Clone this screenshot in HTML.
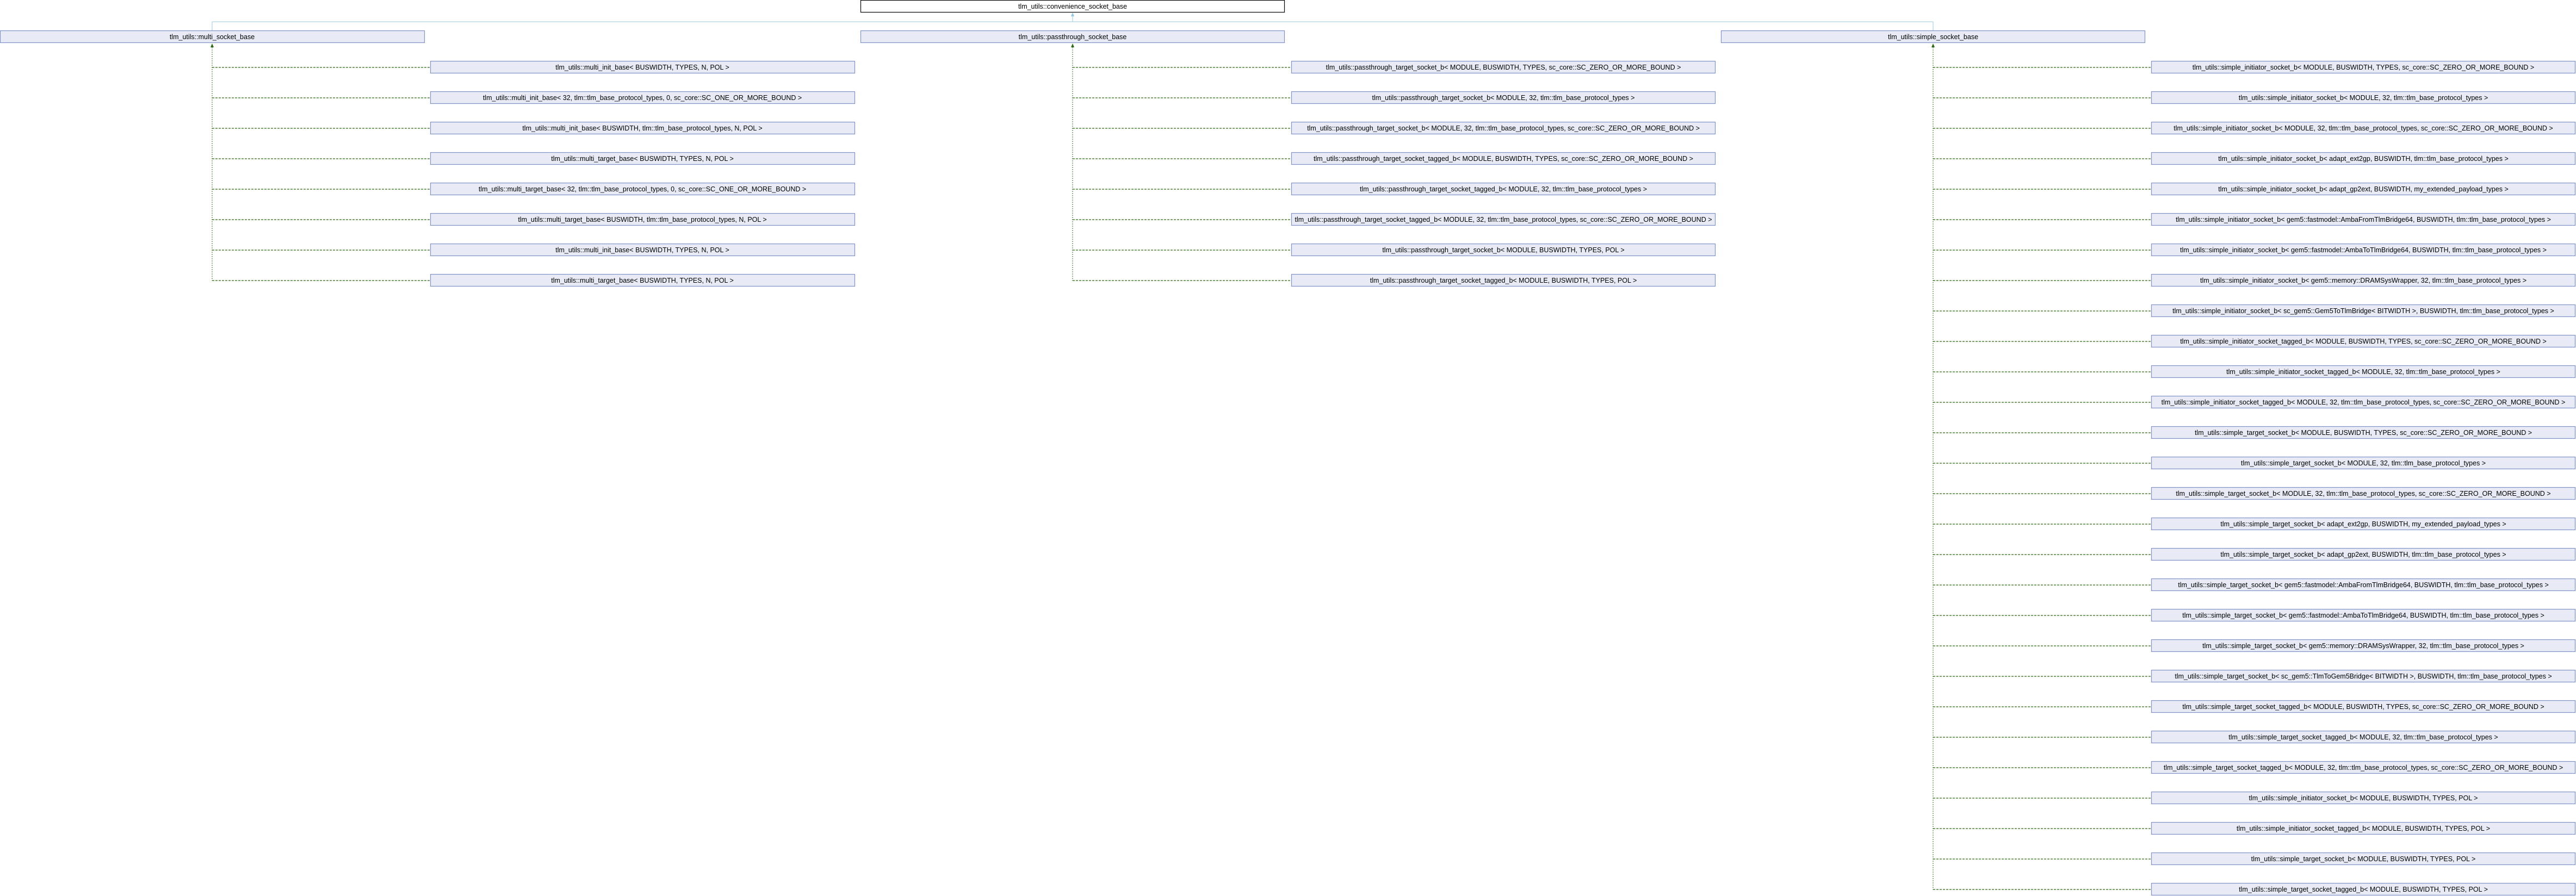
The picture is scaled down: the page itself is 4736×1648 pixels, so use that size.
<!DOCTYPE html>
<html><head><meta charset="utf-8"><style>
html,body{margin:0;padding:0;background:#fff;}
svg{display:block;}
text{font-family:"Liberation Sans",sans-serif;font-size:12.5px;fill:#000;text-anchor:middle;}
.b{fill:#e8ebf5;stroke:#7f93c8;stroke-width:1.2;}
.g{stroke:#2a6a12;stroke-width:1.2;stroke-dasharray:4,2;fill:none;}
.v{stroke:#2a6a12;stroke-width:1;stroke-dasharray:2,2;fill:none;}
.l{stroke:#95c8e6;stroke-width:1;fill:none;}
</style></head><body>
<svg width="4736" height="1648" viewBox="0 0 4736 1648" xmlns="http://www.w3.org/2000/svg">
<path class="l" d="M390,56 V40 H3554 V56 M1972,40 V25"/>
<polygon points="1972,23 1969,30 1975,30" fill="#95c8e6"/>
<rect x="1582.5" y="0.5" width="779" height="22" fill="#fff" stroke="#000" stroke-width="1.2"/>
<text x="1972" y="16">tlm_utils::convenience_socket_base</text>
<rect class="b" x="0.5" y="56.5" width="780" height="22"/><text x="390" y="72">tlm_utils::multi_socket_base</text>
<rect class="b" x="1582.5" y="56.5" width="779" height="22"/><text x="1972" y="72">tlm_utils::passthrough_socket_base</text>
<rect class="b" x="3164.5" y="56.5" width="779" height="22"/><text x="3554" y="72">tlm_utils::simple_socket_base</text>
<polygon points="390,80 387,87 393,87" fill="#2a6a12"/>
<polygon points="1972,80 1969,87 1975,87" fill="#2a6a12"/>
<polygon points="3554,80 3551,87 3557,87" fill="#2a6a12"/>
<path class="v" d="M390,87 V516"/>
<path class="v" d="M1972,87 V516"/>
<path class="v" d="M3554,87 V1636"/>
<g>
<path class="g" d="M390,124H791 M390,180H791 M390,236H791 M390,292H791 M390,348H791 M390,404H791 M390,460H791 M390,516H791"/>
<rect class="b" x="791.5" y="112.5" width="780" height="22"/><text x="1181" y="128">tlm_utils::multi_init_base&lt; BUSWIDTH, TYPES, N, POL &gt;</text>
<rect class="b" x="791.5" y="168.5" width="780" height="22"/><text x="1181" y="184">tlm_utils::multi_init_base&lt; 32, tlm::tlm_base_protocol_types, 0, sc_core::SC_ONE_OR_MORE_BOUND &gt;</text>
<rect class="b" x="791.5" y="224.5" width="780" height="22"/><text x="1181" y="240">tlm_utils::multi_init_base&lt; BUSWIDTH, tlm::tlm_base_protocol_types, N, POL &gt;</text>
<rect class="b" x="791.5" y="280.5" width="780" height="22"/><text x="1181" y="296">tlm_utils::multi_target_base&lt; BUSWIDTH, TYPES, N, POL &gt;</text>
<rect class="b" x="791.5" y="336.5" width="780" height="22"/><text x="1181" y="352">tlm_utils::multi_target_base&lt; 32, tlm::tlm_base_protocol_types, 0, sc_core::SC_ONE_OR_MORE_BOUND &gt;</text>
<rect class="b" x="791.5" y="392.5" width="780" height="22"/><text x="1181" y="408">tlm_utils::multi_target_base&lt; BUSWIDTH, tlm::tlm_base_protocol_types, N, POL &gt;</text>
<rect class="b" x="791.5" y="448.5" width="780" height="22"/><text x="1181" y="464">tlm_utils::multi_init_base&lt; BUSWIDTH, TYPES, N, POL &gt;</text>
<rect class="b" x="791.5" y="504.5" width="780" height="22"/><text x="1181" y="520">tlm_utils::multi_target_base&lt; BUSWIDTH, TYPES, N, POL &gt;</text>
</g>
<g>
<path class="g" d="M1972,124H2374 M1972,180H2374 M1972,236H2374 M1972,292H2374 M1972,348H2374 M1972,404H2374 M1972,460H2374 M1972,516H2374"/>
<rect class="b" x="2374.5" y="112.5" width="779" height="22"/><text x="2764" y="128">tlm_utils::passthrough_target_socket_b&lt; MODULE, BUSWIDTH, TYPES, sc_core::SC_ZERO_OR_MORE_BOUND &gt;</text>
<rect class="b" x="2374.5" y="168.5" width="779" height="22"/><text x="2764" y="184">tlm_utils::passthrough_target_socket_b&lt; MODULE, 32, tlm::tlm_base_protocol_types &gt;</text>
<rect class="b" x="2374.5" y="224.5" width="779" height="22"/><text x="2764" y="240">tlm_utils::passthrough_target_socket_b&lt; MODULE, 32, tlm::tlm_base_protocol_types, sc_core::SC_ZERO_OR_MORE_BOUND &gt;</text>
<rect class="b" x="2374.5" y="280.5" width="779" height="22"/><text x="2764" y="296">tlm_utils::passthrough_target_socket_tagged_b&lt; MODULE, BUSWIDTH, TYPES, sc_core::SC_ZERO_OR_MORE_BOUND &gt;</text>
<rect class="b" x="2374.5" y="336.5" width="779" height="22"/><text x="2764" y="352">tlm_utils::passthrough_target_socket_tagged_b&lt; MODULE, 32, tlm::tlm_base_protocol_types &gt;</text>
<rect class="b" x="2374.5" y="392.5" width="779" height="22"/><text x="2764" y="408">tlm_utils::passthrough_target_socket_tagged_b&lt; MODULE, 32, tlm::tlm_base_protocol_types, sc_core::SC_ZERO_OR_MORE_BOUND &gt;</text>
<rect class="b" x="2374.5" y="448.5" width="779" height="22"/><text x="2764" y="464">tlm_utils::passthrough_target_socket_b&lt; MODULE, BUSWIDTH, TYPES, POL &gt;</text>
<rect class="b" x="2374.5" y="504.5" width="779" height="22"/><text x="2764" y="520">tlm_utils::passthrough_target_socket_tagged_b&lt; MODULE, BUSWIDTH, TYPES, POL &gt;</text>
</g>
<g>
<path class="g" d="M3554,124H3955 M3554,180H3955 M3554,236H3955 M3554,292H3955 M3554,348H3955 M3554,404H3955 M3554,460H3955 M3554,516H3955 M3554,572H3955 M3554,628H3955 M3554,684H3955 M3554,740H3955 M3554,796H3955 M3554,852H3955 M3554,908H3955 M3554,964H3955 M3554,1020H3955 M3554,1076H3955 M3554,1132H3955 M3554,1188H3955 M3554,1244H3955 M3554,1300H3955 M3554,1356H3955 M3554,1412H3955 M3554,1468H3955 M3554,1524H3955 M3554,1580H3955 M3554,1636H3955"/>
<rect class="b" x="3955.5" y="112.5" width="779" height="22"/><text x="4345" y="128">tlm_utils::simple_initiator_socket_b&lt; MODULE, BUSWIDTH, TYPES, sc_core::SC_ZERO_OR_MORE_BOUND &gt;</text>
<rect class="b" x="3955.5" y="168.5" width="779" height="22"/><text x="4345" y="184">tlm_utils::simple_initiator_socket_b&lt; MODULE, 32, tlm::tlm_base_protocol_types &gt;</text>
<rect class="b" x="3955.5" y="224.5" width="779" height="22"/><text x="4345" y="240">tlm_utils::simple_initiator_socket_b&lt; MODULE, 32, tlm::tlm_base_protocol_types, sc_core::SC_ZERO_OR_MORE_BOUND &gt;</text>
<rect class="b" x="3955.5" y="280.5" width="779" height="22"/><text x="4345" y="296">tlm_utils::simple_initiator_socket_b&lt; adapt_ext2gp, BUSWIDTH, tlm::tlm_base_protocol_types &gt;</text>
<rect class="b" x="3955.5" y="336.5" width="779" height="22"/><text x="4345" y="352">tlm_utils::simple_initiator_socket_b&lt; adapt_gp2ext, BUSWIDTH, my_extended_payload_types &gt;</text>
<rect class="b" x="3955.5" y="392.5" width="779" height="22"/><text x="4345" y="408">tlm_utils::simple_initiator_socket_b&lt; gem5::fastmodel::AmbaFromTlmBridge64, BUSWIDTH, tlm::tlm_base_protocol_types &gt;</text>
<rect class="b" x="3955.5" y="448.5" width="779" height="22"/><text x="4345" y="464">tlm_utils::simple_initiator_socket_b&lt; gem5::fastmodel::AmbaToTlmBridge64, BUSWIDTH, tlm::tlm_base_protocol_types &gt;</text>
<rect class="b" x="3955.5" y="504.5" width="779" height="22"/><text x="4345" y="520">tlm_utils::simple_initiator_socket_b&lt; gem5::memory::DRAMSysWrapper, 32, tlm::tlm_base_protocol_types &gt;</text>
<rect class="b" x="3955.5" y="560.5" width="779" height="22"/><text x="4345" y="576">tlm_utils::simple_initiator_socket_b&lt; sc_gem5::Gem5ToTlmBridge&lt; BITWIDTH &gt;, BUSWIDTH, tlm::tlm_base_protocol_types &gt;</text>
<rect class="b" x="3955.5" y="616.5" width="779" height="22"/><text x="4345" y="632">tlm_utils::simple_initiator_socket_tagged_b&lt; MODULE, BUSWIDTH, TYPES, sc_core::SC_ZERO_OR_MORE_BOUND &gt;</text>
<rect class="b" x="3955.5" y="672.5" width="779" height="22"/><text x="4345" y="688">tlm_utils::simple_initiator_socket_tagged_b&lt; MODULE, 32, tlm::tlm_base_protocol_types &gt;</text>
<rect class="b" x="3955.5" y="728.5" width="779" height="22"/><text x="4345" y="744">tlm_utils::simple_initiator_socket_tagged_b&lt; MODULE, 32, tlm::tlm_base_protocol_types, sc_core::SC_ZERO_OR_MORE_BOUND &gt;</text>
<rect class="b" x="3955.5" y="784.5" width="779" height="22"/><text x="4345" y="800">tlm_utils::simple_target_socket_b&lt; MODULE, BUSWIDTH, TYPES, sc_core::SC_ZERO_OR_MORE_BOUND &gt;</text>
<rect class="b" x="3955.5" y="840.5" width="779" height="22"/><text x="4345" y="856">tlm_utils::simple_target_socket_b&lt; MODULE, 32, tlm::tlm_base_protocol_types &gt;</text>
<rect class="b" x="3955.5" y="896.5" width="779" height="22"/><text x="4345" y="912">tlm_utils::simple_target_socket_b&lt; MODULE, 32, tlm::tlm_base_protocol_types, sc_core::SC_ZERO_OR_MORE_BOUND &gt;</text>
<rect class="b" x="3955.5" y="952.5" width="779" height="22"/><text x="4345" y="968">tlm_utils::simple_target_socket_b&lt; adapt_ext2gp, BUSWIDTH, my_extended_payload_types &gt;</text>
<rect class="b" x="3955.5" y="1008.5" width="779" height="22"/><text x="4345" y="1024">tlm_utils::simple_target_socket_b&lt; adapt_gp2ext, BUSWIDTH, tlm::tlm_base_protocol_types &gt;</text>
<rect class="b" x="3955.5" y="1064.5" width="779" height="22"/><text x="4345" y="1080">tlm_utils::simple_target_socket_b&lt; gem5::fastmodel::AmbaFromTlmBridge64, BUSWIDTH, tlm::tlm_base_protocol_types &gt;</text>
<rect class="b" x="3955.5" y="1120.5" width="779" height="22"/><text x="4345" y="1136">tlm_utils::simple_target_socket_b&lt; gem5::fastmodel::AmbaToTlmBridge64, BUSWIDTH, tlm::tlm_base_protocol_types &gt;</text>
<rect class="b" x="3955.5" y="1176.5" width="779" height="22"/><text x="4345" y="1192">tlm_utils::simple_target_socket_b&lt; gem5::memory::DRAMSysWrapper, 32, tlm::tlm_base_protocol_types &gt;</text>
<rect class="b" x="3955.5" y="1232.5" width="779" height="22"/><text x="4345" y="1248">tlm_utils::simple_target_socket_b&lt; sc_gem5::TlmToGem5Bridge&lt; BITWIDTH &gt;, BUSWIDTH, tlm::tlm_base_protocol_types &gt;</text>
<rect class="b" x="3955.5" y="1288.5" width="779" height="22"/><text x="4345" y="1304">tlm_utils::simple_target_socket_tagged_b&lt; MODULE, BUSWIDTH, TYPES, sc_core::SC_ZERO_OR_MORE_BOUND &gt;</text>
<rect class="b" x="3955.5" y="1344.5" width="779" height="22"/><text x="4345" y="1360">tlm_utils::simple_target_socket_tagged_b&lt; MODULE, 32, tlm::tlm_base_protocol_types &gt;</text>
<rect class="b" x="3955.5" y="1400.5" width="779" height="22"/><text x="4345" y="1416">tlm_utils::simple_target_socket_tagged_b&lt; MODULE, 32, tlm::tlm_base_protocol_types, sc_core::SC_ZERO_OR_MORE_BOUND &gt;</text>
<rect class="b" x="3955.5" y="1456.5" width="779" height="22"/><text x="4345" y="1472">tlm_utils::simple_initiator_socket_b&lt; MODULE, BUSWIDTH, TYPES, POL &gt;</text>
<rect class="b" x="3955.5" y="1512.5" width="779" height="22"/><text x="4345" y="1528">tlm_utils::simple_initiator_socket_tagged_b&lt; MODULE, BUSWIDTH, TYPES, POL &gt;</text>
<rect class="b" x="3955.5" y="1568.5" width="779" height="22"/><text x="4345" y="1584">tlm_utils::simple_target_socket_b&lt; MODULE, BUSWIDTH, TYPES, POL &gt;</text>
<rect class="b" x="3955.5" y="1624.5" width="779" height="22"/><text x="4345" y="1640">tlm_utils::simple_target_socket_tagged_b&lt; MODULE, BUSWIDTH, TYPES, POL &gt;</text>
</g>
</svg>
</body></html>
